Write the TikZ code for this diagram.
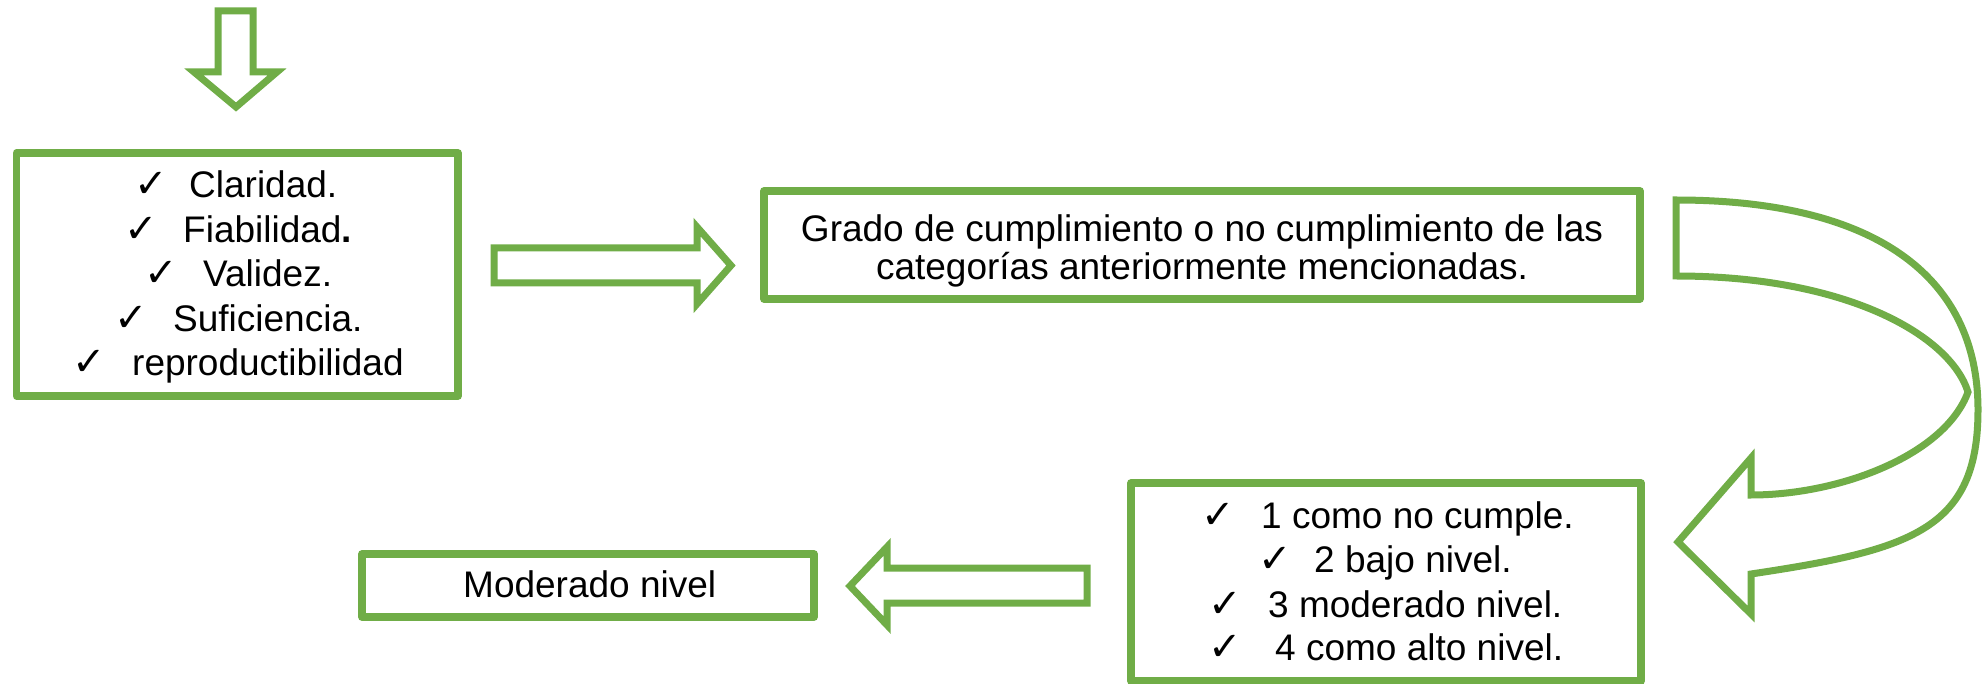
\documentclass[tikz,border=0pt]{standalone}
\usepackage{fontspec}
\setmainfont{Liberation Sans}
\newfontfamily\ckfont{DejaVu Sans}
\definecolor{grn}{RGB}{112,173,71}
\begin{document}
\begin{tikzpicture}[x=1pt,y=-1pt,
 boxst/.style={draw=grn,line width=7.5pt,line join=round,inner sep=0pt},
 arrst/.style={draw=grn,line width=7pt,line join=miter,fill=white},
 txt/.style={anchor=base west,inner sep=0pt,font=\fontsize{37}{44}\selectfont},
 ctxt/.style={anchor=base,inner sep=0pt,font=\fontsize{37}{44}\selectfont},
 ck/.style={anchor=base west,inner sep=0pt,font=\ckfont\fontsize{40}{42}\selectfont}]
\useasboundingbox (0,0) rectangle (1982,684);
% boxes
\node[boxst,minimum width=441.4pt,minimum height=243pt] (b1) at (237.3,274.5) {};
\node[boxst,minimum width=876pt,minimum height=108pt] (b2) at (1202,245) {};
\node[boxst,minimum width=510pt,minimum height=198pt] (b3) at (1386,582) {};
\node[boxst,minimum width=452pt,minimum height=63pt] (b4) at (588,585.5) {};
% block arrows
\draw[arrst] (218,11) -- (253,11) -- (253,72) -- (277,72) -- (236,107) -- (194,72) -- (218,72) -- cycle;
\draw[arrst] (494,248) -- (697,248) -- (697,227) -- (731,265.5) -- (697,304) -- (697,283) -- (494,283) -- cycle;
\draw[arrst] (1087,568) -- (887,568) -- (887,547) -- (850,586) -- (887,625) -- (887,603) -- (1087,603) -- cycle;
\draw[arrst] (1676,200) .. controls (1872,200) and (1978,274) .. (1978,410)
  .. controls (1978,530) and (1911,550) .. (1751,574) -- (1751,614) -- (1678,542) -- (1751,458) -- (1751,495)
  .. controls (1840,495) and (1945,455) .. (1968,392)
  .. controls (1950,335) and (1846,276) .. (1676,276) -- cycle;
% box 1 text
\node[ck] (c11) at (134,198) {✓};
\node[txt] (t11) at (189,198) {Claridad.};
\node[ck] (c12) at (124,243) {✓};
\node[txt] (t12) at (183,243) {Fiabilidad\textbf{.}};
\node[ck] (c13) at (144,287) {✓};
\node[txt] (t13) at (203,287) {Validez.};
\node[ck] (c14) at (114,332) {✓};
\node[txt] (t14) at (173,332) {Suficiencia.};
\node[ck] (c15) at (72,376) {✓};
\node[txt] (t15) at (132,376) {reproductibilidad};
% box 2 text
\node[ctxt] (t21) at (1202,242) {Grado de cumplimiento o no cumplimiento de las};
\node[ctxt] (t22) at (1202,280) {categorías anteriormente mencionadas.};
% box 3 text
\node[ck] (c31) at (1201,528) {✓};
\node[txt] (t31) at (1261,528) {1 como no cumple.};
\node[ck] (c32) at (1258,572) {✓};
\node[txt] (t32) at (1314,572) {2 bajo nivel.};
\node[ck] (c33) at (1208,617) {✓};
\node[txt] (t33) at (1268,617) {3 moderado nivel.};
\node[ck] (c34) at (1208,660) {✓};
\node[txt] (t34) at (1275,660) {4 como alto nivel.};
% box 4 text
\node[txt] (t41) at (463,597) {Moderado nivel};
\end{tikzpicture}
\end{document}
